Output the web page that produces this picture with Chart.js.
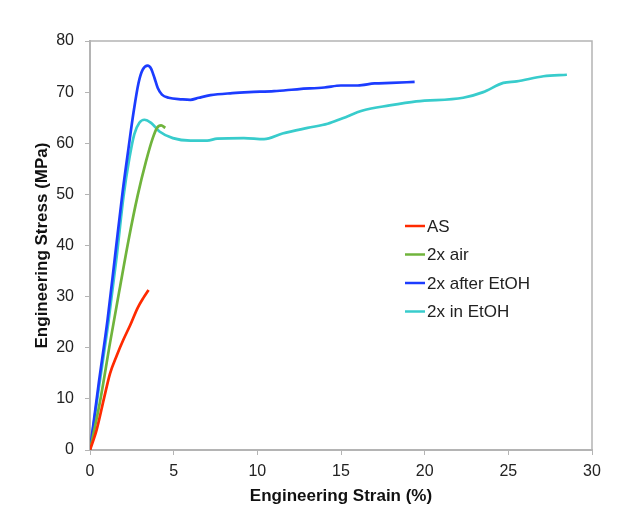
<!DOCTYPE html>
<html>
<head>
<meta charset="utf-8">
<title>Engineering stress-strain</title>
<script src="https://cdn.jsdelivr.net/npm/chart.js@4.4.1/dist/chart.umd.min.js"></script>
<style>
  body { margin: 0; background: #fff; }
  #wrap { width: 624px; height: 507px; }
</style>
</head>
<body>
<div id="wrap"><canvas id="stressChart" width="624" height="507"></canvas></div>
<script>
// stress-strain curves, strain in %, stress in MPa
const seriesLabels = ['AS', '2x air', '2x after EtOH', '2x in EtOH'];
const seriesColors = ['#ff2a00', '#70b43c', '#1c3cff', '#38cccc'];

const asStrain = [0, 0.4, 0.85, 1.2, 1.6, 2.0, 2.4, 2.85, 3.2, 3.5];
const asStress = [0, 4, 10.3, 15, 18.5, 21.6, 24.4, 27.8, 29.8, 31.3];

const airStrain = [0, 0.6, 1.2, 1.8, 2.3, 2.85, 3.35, 3.75, 4.0, 4.25, 4.5];
const airStress = [0, 9.5, 21, 32, 41, 49.8, 56.5, 61, 63, 63.5, 63.0];

const afterStrain = [0, 0.5, 1.05, 1.5, 1.95, 2.3, 2.6, 2.9, 3.15, 3.45, 3.65, 3.85, 4.05, 4.3, 4.7,
  5.5, 6.0, 6.5, 7.2, 8.5, 9.5, 11, 12.5, 14, 15, 16, 17, 18, 19.4];
const afterStress = [0, 12.5, 25.5, 38, 50.5, 59, 66, 71.8, 74.4, 75.2, 74.6, 72.8, 70.8, 69.5, 68.9,
  68.6, 68.5, 68.9, 69.4, 69.8, 70, 70.2, 70.6, 70.9, 71.3, 71.3, 71.7, 71.8, 72.0];

const inStrain = [0, 0.5, 1.1, 1.6, 2.0, 2.35, 2.65, 2.95, 3.25, 3.65, 4.15, 4.95, 6.0, 7.0, 7.6,
  9.2, 10.4, 11.5, 13.0, 14.2, 15.1, 16.3, 17.9, 19.5, 22.3, 23.5, 24.7, 25.5, 27.1, 28.5];
const inStress = [0, 11.5, 25, 38, 49.5, 57, 61.8, 64.0, 64.6, 64.0, 62.3, 61.0, 60.5, 60.5, 60.9,
  61.0, 60.8, 61.9, 63.0, 63.8, 64.9, 66.4, 67.4, 68.2, 68.9, 70.0, 71.8, 72.1, 73.1, 73.4];

const xTicks = [0, 5, 10, 15, 20, 25, 30];
const yTicks = [0, 10, 20, 30, 40, 50, 60, 70, 80];

const FONT = 'Liberation Sans, Arial, sans-serif';
const AXIS_GREY = '#b4b4b4';

function toPoints(xs, ys) {
  return xs.map((x, i) => ({ x: x, y: ys[i] }));
}

const curves = [
  toPoints(asStrain, asStress),
  toPoints(airStrain, airStress),
  toPoints(afterStrain, afterStress),
  toPoints(inStrain, inStress)
];

// legend sits inside the plot, drawn by hand
const insideLegend = {
  id: 'insideLegend',
  afterDraw(chart) {
    const ctx = chart.ctx;
    const x0 = 405, y0 = 226, step = 28.5;
    ctx.save();
    ctx.font = '17px ' + FONT;
    ctx.textBaseline = 'middle';
    ctx.fillStyle = '#222';
    chart.data.datasets.forEach((ds, i) => {
      const y = y0 + i * step;
      ctx.strokeStyle = ds.borderColor;
      ctx.lineWidth = 2.5;
      ctx.beginPath();
      ctx.moveTo(x0, y);
      ctx.lineTo(x0 + 20, y);
      ctx.stroke();
      ctx.fillText(ds.label, x0 + 22, y + 1);
    });
    ctx.restore();
  }
};

// top and right edges of the plot frame
const plotFrame = {
  id: 'plotFrame',
  beforeDatasetsDraw(chart) {
    const { left, right, top, bottom } = chart.chartArea;
    const ctx = chart.ctx;
    ctx.save();
    ctx.strokeStyle = AXIS_GREY;
    ctx.lineWidth = 1.5;
    ctx.beginPath();
    ctx.moveTo(left, top);
    ctx.lineTo(right, top);
    ctx.lineTo(right, bottom);
    ctx.stroke();
    ctx.restore();
  }
};

new Chart(document.getElementById('stressChart'), {
  type: 'scatter',
  data: {
    datasets: curves.map((pts, i) => ({
      label: seriesLabels[i],
      data: pts,
      showLine: true,
      borderColor: seriesColors[i],
      backgroundColor: seriesColors[i],
      borderWidth: 2.7,
      pointRadius: 0,
      cubicInterpolationMode: 'monotone'
    }))
  },
  options: {
    responsive: false,
    animation: false,
    devicePixelRatio: 1,
    layout: { padding: { top: 41, right: 32, left: 0, bottom: 0 } },
    plugins: {
      legend: { display: false },
      tooltip: { enabled: false }
    },
    scales: {
      x: {
        type: 'linear',
        min: 0,
        max: 30,
        afterFit(scale) { scale.height = 57; },
        afterBuildTicks(scale) { scale.ticks = xTicks.map(v => ({ value: v })); },
        border: { color: AXIS_GREY, width: 2 },
        grid: { drawOnChartArea: false, drawTicks: true, tickLength: 5, color: AXIS_GREY },
        ticks: { color: '#222', padding: 7, font: { family: FONT, size: 16 }, maxRotation: 0 },
        title: {
          display: true,
          text: 'Engineering Strain (%)',
          color: '#111',
          font: { family: FONT, size: 17, weight: 'bold', lineHeight: 1.2 },
          padding: { top: 0, bottom: 0 }
        }
      },
      y: {
        type: 'linear',
        min: 0,
        max: 80,
        afterFit(scale) { scale.width = 90; },
        afterBuildTicks(scale) { scale.ticks = yTicks.map(v => ({ value: v })); },
        border: { color: AXIS_GREY, width: 2 },
        grid: { drawOnChartArea: false, drawTicks: true, tickLength: 5, color: AXIS_GREY },
        ticks: { color: '#222', padding: 11, font: { family: FONT, size: 16 } },
        title: {
          display: true,
          text: 'Engineering Stress (MPa)',
          color: '#111',
          font: { family: FONT, size: 17, weight: 'bold', lineHeight: 1.2 },
          padding: { top: 32, bottom: 0 }
        }
      }
    }
  },
  plugins: [plotFrame, insideLegend]
});
</script>
</body>
</html>
